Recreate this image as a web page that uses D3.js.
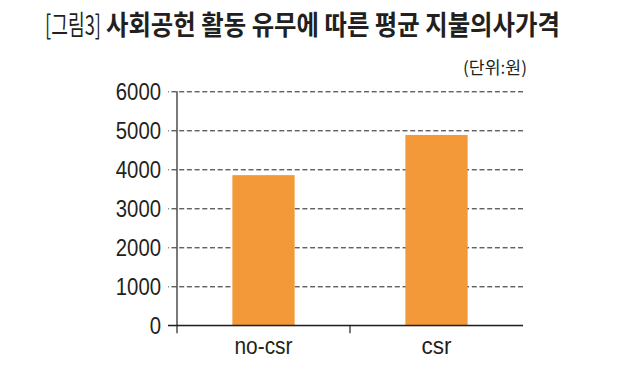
<!DOCTYPE html>
<html>
<head>
<meta charset="utf-8">
<script src="https://cdn.jsdelivr.net/npm/d3@7"></script>
<style>
  html, body { margin: 0; padding: 0; background: #fff; }
  svg { display: block; }
  .tick-label { font-family: 'Liberation Sans', Arial, sans-serif; fill: #231f20; }
  .title { font-family: 'Noto Sans CJK KR', sans-serif; fill: #231f20; }
</style>
</head>
<body>
<div id="chart"></div>
<script>
'use strict';

// data
var categories = ['no-csr', 'csr'];
var values = [3850, 4880];
var yTicks = [0, 1000, 2000, 3000, 4000, 5000, 6000];
var titlePrefix = '[그림3]';
var titleText = '사회공헌 활동 유무에 따른 평균 지불의사가격';
var unitText = '(단위:원)';


var WIDTH = 640,
    HEIGHT = 369,
    PLOT_LEFT = 177,
    PLOT_RIGHT = 523,
    PLOT_TOP = 91.3,
    PLOT_BOTTOM = 325.3,
    BAR_COLOR = '#f4993a',
    INK = '#231f20';

var svg = d3.select('#chart').append('svg')
    .attr('width', WIDTH)
    .attr('height', HEIGHT)
    .attr('viewBox', '0 0 ' + WIDTH + ' ' + HEIGHT);

/**
 * Add text at (x, y), squeezed horizontally to the given width.
 */
var condensedText = function (x, y, width, size, weight, str) {
  var t = svg.append('text')
      .attr('class', 'title')
      .attr('font-size', size)
      .attr('font-weight', weight)
      .text(str),
      natural = t.node().getComputedTextLength();

  t.attr('transform', 'translate(' + x + ',' + y + ') scale(' +
      (width / natural) + ',1)');
  return t;
};

// title, prefix in regular weight, rest bold
condensedText(45, 35, 56, 27, 400, titlePrefix);
condensedText(106, 35, 454, 27, 700, titleText);
condensedText(463, 74, 64, 17, 400, unitText).attr('fill', '#333');

// scales
var x = d3.scaleBand()
    .domain(categories)
    .range([PLOT_LEFT, PLOT_RIGHT])
    .paddingInner(0.64)
    .paddingOuter(0.32);

var xOuter = d3.scaleBand()
    .domain(categories)
    .range([PLOT_LEFT, PLOT_RIGHT]);

var y = d3.scaleLinear()
    .domain([0, 6000])
    .range([PLOT_BOTTOM, PLOT_TOP]);

// dashed grid with left tick labels
var yAxis = svg.append('g')
    .attr('transform', 'translate(' + PLOT_RIGHT + ',0)')
    .call(d3.axisLeft(y)
        .tickValues(yTicks)
        .tickSize(PLOT_RIGHT - 168)
        .tickPadding(7)
        .tickFormat(d3.format('d')));

yAxis.select('.domain').remove();
yAxis.selectAll('.tick line')
    .attr('stroke', INK)
    .attr('stroke-width', 1)
    .attr('stroke-dasharray', function (d) { return d === 0 ? null : '5,2.7'; });
yAxis.selectAll('.tick text')
    .attr('class', 'tick-label')
    .attr('font-size', 23)
    .attr('fill', INK)
    .attr('dy', '0.36em')
    .attr('textLength', function (d) { return String(d).length * 11.3; })
    .attr('lengthAdjust', 'spacingAndGlyphs');

// bars
svg.append('g')
    .selectAll('rect')
    .data(values)
    .join('rect')
    .attr('x', function (d, i) { return x(categories[i]); })
    .attr('y', function (d) { return y(d); })
    .attr('width', x.bandwidth())
    .attr('height', function (d) { return y(0) - y(d); })
    .attr('fill', BAR_COLOR);

// baseline on top of bars
svg.append('line')
    .attr('x1', 168)
    .attr('x2', PLOT_RIGHT)
    .attr('y1', y(0))
    .attr('y2', y(0))
    .attr('stroke', INK)
    .attr('stroke-width', 1.2);

// y axis line, running a bit below the baseline
svg.append('line')
    .attr('x1', PLOT_LEFT)
    .attr('x2', PLOT_LEFT)
    .attr('y1', y(6000))
    .attr('y2', y(0) + 8)
    .attr('stroke', INK)
    .attr('stroke-width', 1.2);

// category divider tick
svg.append('line')
    .attr('x1', xOuter('csr'))
    .attr('x2', xOuter('csr'))
    .attr('y1', y(0))
    .attr('y2', y(0) + 8)
    .attr('stroke', INK)
    .attr('stroke-width', 1.2);

// category labels
svg.append('g')
    .selectAll('text')
    .data(categories)
    .join('text')
    .attr('class', 'tick-label')
    .attr('x', function (d) { return xOuter(d) + xOuter.bandwidth() / 2; })
    .attr('y', 354)
    .attr('text-anchor', 'middle')
    .attr('font-size', 23)
    .attr('textLength', function (d) { return d === 'csr' ? 30 : 58; })
    .attr('lengthAdjust', 'spacingAndGlyphs')
    .text(function (d) { return d; });
</script>
</body>
</html>
